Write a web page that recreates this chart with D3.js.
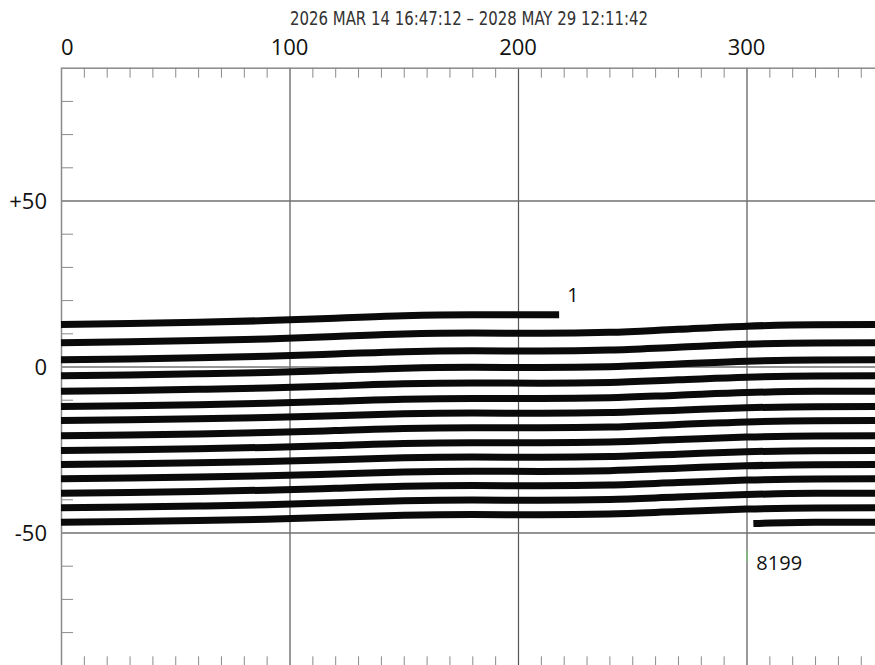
<!DOCTYPE html>
<html>
<head>
<meta charset="utf-8">
<script src="https://cdn.jsdelivr.net/npm/d3@7"></script>
<style>
  html, body { margin: 0; padding: 0; background: #fff; }
  svg { display: block; }
</style>
</head>
<body>
<svg id="chart" width="875" height="665"></svg>
<script>
// ---------------- DATA ----------------
const titleText = "2026 MAR 14 16:47:12 \u2013 2028 MAY 29 12:11:42";
const xTickValues = [0, 100, 200, 300];
const xTickLabels = ["0", "100", "200", "300"];
const yTickValues = [50, 0, -50];
const yTickLabels = ["+50", "0", "-50"];
const minorStep = 10;

// longitude grid shared by full passes
const lonGrid = [0, 30, 60, 90, 120, 150, 180, 210, 240, 270, 300, 330, 360];

// first (partial) pass, labelled "1"
const firstPassLon = [0, 30, 60, 90, 120, 150, 180, 210, 218];
const firstPassLat = [12.65, 12.93, 13.32, 13.82, 14.54, 15.32, 15.60, 15.55, 15.58];

// full passes (latitude at each lonGrid point)
const pass02 = [7.14, 7.42, 7.80, 8.30, 9.01, 9.78, 10.06, 10.01, 10.28, 11.22, 12.15, 12.59, 12.65];
const pass03 = [2.02, 2.28, 2.63, 3.10, 3.76, 4.48, 4.73, 4.68, 4.94, 5.81, 6.68, 7.09, 7.14];
const pass04 = [-2.80, -2.56, -2.22, -1.79, -1.16, -0.49, -0.25, -0.29, -0.05, 0.77, 1.59, 1.97, 2.02];
const pass05 = [-7.44, -7.21, -6.88, -6.47, -5.86, -5.21, -4.98, -5.03, -4.80, -4.01, -3.22, -2.85, -2.80];
const pass06 = [-12.05, -11.82, -11.50, -11.08, -10.48, -9.84, -9.61, -9.65, -9.42, -8.64, -7.85, -7.49, -7.44];
const pass07 = [-16.27, -16.06, -15.76, -15.38, -14.84, -14.24, -14.03, -14.08, -13.86, -13.15, -12.43, -12.09, -12.05];
const pass08 = [-20.87, -20.64, -20.32, -19.90, -19.31, -18.66, -18.43, -18.48, -18.25, -17.47, -16.68, -16.32, -16.27];
const pass09 = [-25.30, -25.08, -24.77, -24.37, -23.79, -23.17, -22.95, -23.00, -22.77, -22.02, -21.27, -20.91, -20.87];
const pass10 = [-29.52, -29.31, -29.01, -28.63, -28.09, -27.49, -27.28, -27.33, -27.11, -26.40, -25.68, -25.34, -25.30];
const pass11 = [-33.83, -33.61, -33.31, -32.92, -32.36, -31.76, -31.55, -31.59, -31.37, -30.64, -29.91, -29.56, -29.52];
const pass12 = [-38.16, -37.94, -37.64, -37.25, -36.69, -36.08, -35.87, -35.91, -35.69, -34.96, -34.22, -33.87, -33.83];
const pass13 = [-42.56, -42.34, -42.03, -41.64, -41.06, -40.45, -40.23, -40.27, -40.05, -39.30, -38.56, -38.20, -38.16];
const pass14 = [-46.90, -46.68, -46.38, -45.99, -45.42, -44.82, -44.60, -44.64, -44.43, -43.69, -42.95, -42.60, -42.56];

// last (partial) pass, labelled "8199"
const lastPassLon = [303, 330, 360];
const lastPassLat = [-47.30, -46.95, -46.90];

const startLabel = "1";
const endLabel = "8199";

// ---------------- DRAW ----------------
const svg = d3.select("#chart");

const x = d3.scaleLinear().domain([0, 360]).range([61, 61 + 3.6 * 228.5]);
const y = d3.scaleLinear().domain([-90, 90]).range([366.5 + 90 * 3.32, 366.5 - 90 * 3.32]);

const fontTick = "'Open Sans', 'Liberation Sans', Arial, sans-serif";

// title
svg.append("text")
  .attr("x", 469).attr("y", 25)
  .attr("text-anchor", "middle")
  .attr("font-family", "'Liberation Sans Narrow', 'DejaVu Sans Condensed', sans-serif")
  .attr("font-size", 20)
  .attr("fill", "#333")
  .attr("textLength", 358)
  .attr("lengthAdjust", "spacingAndGlyphs")
  .text(titleText);

// minor ticks
const minorX = d3.range(0, 361, minorStep).filter(v => !xTickValues.includes(v));
const minorY = d3.range(-90, 91, minorStep).filter(v => !yTickValues.includes(v) && Math.abs(v) !== 90);

const gTicks = svg.append("g").attr("stroke", "#8a8a8a").attr("stroke-width", 1);
gTicks.selectAll("line.top").data(minorX).join("line")
  .attr("x1", d => x(d) + 0.5).attr("x2", d => x(d) + 0.5)
  .attr("y1", y(90)).attr("y2", y(90) + 10);
gTicks.selectAll("line.bot").data(minorX).join("line")
  .attr("x1", d => x(d) + 0.5).attr("x2", d => x(d) + 0.5)
  .attr("y1", y(-90)).attr("y2", y(-90) - 9);
gTicks.selectAll("line.left").data(minorY).join("line")
  .attr("x1", x(0)).attr("x2", x(0) + 12)
  .attr("y1", d => y(d) + 0.5).attr("y2", d => y(d) + 0.5);

// grid lines
const gGrid = svg.append("g");
gGrid.selectAll("line.vg").data(xTickValues.filter(v => v !== 0)).join("line")
  .attr("x1", d => x(d) + 0.5).attr("x2", d => x(d) + 0.5)
  .attr("y1", y(90)).attr("y2", y(-90))
  .attr("stroke", "#555").attr("stroke-width", 1.2);
gGrid.selectAll("line.hg").data(yTickValues).join("line")
  .attr("x1", x(0)).attr("x2", x(360))
  .attr("y1", d => y(d) + 0.5).attr("y2", d => y(d) + 0.5)
  .attr("stroke", "#707070").attr("stroke-width", 1.4);

// frame
svg.append("rect")
  .attr("x", x(0) + 0.5).attr("y", y(90) + 0.5)
  .attr("width", x(360) - x(0)).attr("height", y(-90) - y(90))
  .attr("fill", "none").attr("stroke", "#8a8a8a").attr("stroke-width", 1.5);

// axis labels
svg.append("g").selectAll("text").data(xTickValues).join("text")
  .attr("x", d => x(d))
  .attr("y", 55)
  .attr("text-anchor", (d, i) => i === 0 ? "start" : "middle")
  .attr("font-family", fontTick).attr("font-size", 22).attr("fill", "#111")
  .text((d, i) => xTickLabels[i]);

svg.append("g").selectAll("text").data(yTickValues).join("text")
  .attr("x", x(0) - 14)
  .attr("y", d => y(d) + 8)
  .attr("text-anchor", "end")
  .attr("font-family", fontTick).attr("font-size", 22).attr("fill", "#111")
  .text((d, i) => yTickLabels[i]);

// tracks
const line = d3.line().x(d => x(d[0])).y(d => y(d[1])).curve(d3.curveMonotoneX);
const fullPasses = [pass02, pass03, pass04, pass05, pass06, pass07, pass08, pass09, pass10, pass11, pass12, pass13, pass14];
const segments = [d3.zip(firstPassLon, firstPassLat)]
  .concat(fullPasses.map(p => d3.zip(lonGrid, p)))
  .concat([d3.zip(lastPassLon, lastPassLat)]);

svg.append("g").selectAll("path").data(segments).join("path")
  .attr("d", line)
  .attr("fill", "none")
  .attr("stroke", "#0a0a0a")
  .attr("stroke-width", 7)
  .attr("stroke-linecap", "butt");

// start/end labels
const sLon = firstPassLon[firstPassLon.length - 1];
const sLat = firstPassLat[firstPassLat.length - 1];
svg.append("text")
  .attr("x", x(sLon) + 8).attr("y", y(sLat) - 13)
  .attr("font-family", fontTick).attr("font-size", 20).attr("fill", "#111")
  .text(startLabel);

const eLon = lastPassLon[0];
const eLat = lastPassLat[0];
svg.append("text")
  .attr("x", x(eLon) + 3).attr("y", y(eLat) + 46)
  .attr("font-family", fontTick).attr("font-size", 20).attr("fill", "#111")
  .text(endLabel);
svg.append("line")
  .attr("x1", x(300) + 0.5).attr("x2", x(300) + 0.5)
  .attr("y1", y(eLat) + 27).attr("y2", y(eLat) + 38)
  .attr("stroke", "#6fd36f").attr("stroke-width", 1);
</script>
</body>
</html>
